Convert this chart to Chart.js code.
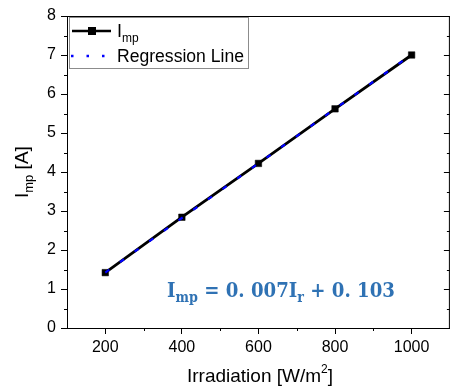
<!DOCTYPE html>
<html>
<head>
<meta charset="utf-8">
<script src="https://cdn.jsdelivr.net/npm/chart.js@4.4.1/dist/chart.umd.min.js"></script>
<style>
  html, body { margin: 0; padding: 0; background: #fff; overflow: hidden; }
  #wrap { width: 455px; height: 387px; }
</style>
</head>
<body>
<div id="wrap"><canvas id="impChart" width="455" height="387"></canvas></div>
<script>
// data
const irradiation = [200, 400, 600, 800, 1000];
const impValues = [1.42, 2.84, 4.22, 5.62, 7.0];
const regressionValues = [1.42, 2.82, 4.22, 5.62, 7.01];
const xTickValues = [200, 400, 600, 800, 1000];
const yTickValues = [0, 1, 2, 3, 4, 5, 6, 7, 8];

const FONT = '"Liberation Sans", Arial, sans-serif';
const EQ_BLUE = '#2f72b4';

function toPoints(ys) {
  return irradiation.map((x, i) => ({ x: x, y: ys[i] }));
}

// draws "main" + subscript at x, y (baseline), returns end x
function drawSub(ctx, main, sub, x, y, size, font, weight) {
  ctx.font = (weight || '') + ' ' + size + 'px ' + font;
  ctx.fillText(main, x, y);
  x += ctx.measureText(main).width;
  ctx.font = (weight || '') + ' ' + Math.round(size * 0.68) + 'px ' + font;
  ctx.fillText(sub, x, y + size * 0.25);
  return x + ctx.measureText(sub).width;
}

const decorPlugin = {
  id: 'decor',
  afterDraw(chart) {
    const ctx = chart.ctx;
    const area = chart.chartArea;
    const xs = chart.scales.x;
    const ys = chart.scales.y;
    ctx.save();
    ctx.strokeStyle = '#000';
    ctx.lineWidth = 1;

    // top and right frame
    ctx.beginPath();
    ctx.moveTo(area.left, area.top + 0.5);
    ctx.lineTo(area.right, area.top + 0.5);
    ctx.moveTo(area.right - 0.5, area.top);
    ctx.lineTo(area.right - 0.5, area.bottom);
    ctx.stroke();

    // minor ticks (outside) on left and bottom, inner ticks on right
    ctx.beginPath();
    for (let i = 0; i < xTickValues.length; i++) {
      const v = xTickValues[i] + 100;
      if (v >= xs.max) continue;
      const px = Math.round(xs.getPixelForValue(v)) + 0.5;
      ctx.moveTo(px, area.bottom);
      ctx.lineTo(px, area.bottom + 3);
    }
    for (let i = 0; i < yTickValues.length - 1; i++) {
      const py = Math.round(ys.getPixelForValue(yTickValues[i] + 0.5)) + 0.5;
      ctx.moveTo(area.left, py);
      ctx.lineTo(area.left - 3, py);
      ctx.moveTo(area.right, py);
      ctx.lineTo(area.right - 3, py);
    }
    for (let i = 1; i < yTickValues.length - 1; i++) {
      const py = Math.round(ys.getPixelForValue(yTickValues[i])) + 0.5;
      ctx.moveTo(area.right, py);
      ctx.lineTo(area.right - 6, py);
    }
    ctx.stroke();

    ctx.fillStyle = '#000';
    ctx.textBaseline = 'alphabetic';
    ctx.textAlign = 'left';

    // x axis title
    ctx.font = '19px ' + FONT;
    const xt = 'Irradiation [W/m';
    const xtW = ctx.measureText(xt).width;
    ctx.font = '12px ' + FONT;
    const supW = ctx.measureText('2').width;
    ctx.font = '19px ' + FONT;
    const brW = ctx.measureText(']').width;
    let tx = 260 - (xtW + supW + brW) / 2;
    ctx.fillText(xt, tx, 382);
    tx += xtW;
    ctx.font = '12px ' + FONT;
    ctx.fillText('2', tx, 373);
    tx += supW;
    ctx.font = '19px ' + FONT;
    ctx.fillText(']', tx, 382);

    // y axis title, rotated
    ctx.save();
    ctx.translate(28, 198);
    ctx.rotate(-Math.PI / 2);
    let yx = drawSub(ctx, 'I', 'mp', 0, 0, 19, FONT);
    ctx.font = '19px ' + FONT;
    ctx.fillText(' [A]', yx, 0);
    ctx.restore();

    // legend
    const lx = 69, ly = 17, lw = 179, lh = 51;
    ctx.fillStyle = '#fff';
    ctx.fillRect(lx, ly, lw, lh);
    ctx.strokeStyle = '#8c8c8c';
    ctx.lineWidth = 1;
    ctx.strokeRect(lx + 0.5, ly + 0.5, lw, lh);

    ctx.strokeStyle = '#000';
    ctx.lineWidth = 2.5;
    ctx.beginPath();
    ctx.moveTo(72, 31);
    ctx.lineTo(111, 31);
    ctx.stroke();
    ctx.fillStyle = '#000';
    ctx.fillRect(88, 27, 8, 8);

    ctx.strokeStyle = '#0000ff';
    ctx.lineWidth = 2.5;
    ctx.setLineDash([2.5, 13]);
    ctx.beginPath();
    ctx.moveTo(71, 56);
    ctx.lineTo(112, 56);
    ctx.stroke();
    ctx.setLineDash([]);

    ctx.fillStyle = '#000';
    drawSub(ctx, 'I', 'mp', 117, 37, 18, FONT);
    ctx.font = '18px ' + FONT;
    ctx.fillText('Regression Line', 117, 62, 127);

    // regression equation
    ctx.fillStyle = EQ_BLUE;
    const eqFont = '"DejaVu Serif", "Liberation Serif", serif';
    const parts = [
      ['I', 'mp'],
      [' = 0. 007I', 'r'],
      [' + 0. 103', '']
    ];
    let total = 0;
    parts.forEach(p => {
      ctx.font = 'bold 20px ' + eqFont;
      total += ctx.measureText(p[0]).width;
      ctx.font = 'bold 14px ' + eqFont;
      total += ctx.measureText(p[1]).width;
    });
    ctx.save();
    ctx.translate(167, 297);
    ctx.scale(228 / total, 1);
    let ex = 0;
    parts.forEach(p => {
      ex = drawSub(ctx, p[0], p[1], ex, 0, 20, eqFont, 'bold');
    });
    ctx.restore();

    ctx.restore();
  }
};

const ctx = document.getElementById('impChart');
new Chart(ctx, {
  type: 'line',
  data: {
    datasets: [
      {
        label: 'Regression Line',
        data: toPoints(regressionValues),
        borderColor: '#0000ff',
        borderWidth: 2.2,
        borderDash: [5, 13],
        pointRadius: 0,
        order: 1
      },
      {
        label: 'Imp',
        data: toPoints(impValues),
        borderColor: '#000',
        borderWidth: 2.8,
        pointStyle: 'rect',
        pointRadius: 4.6,
        pointBackgroundColor: '#000',
        pointBorderColor: '#000',
        pointBorderWidth: 0.5,
        order: 2
      }
    ]
  },
  options: {
    responsive: false,
    animation: false,
    events: [],
    layout: { padding: { left: 0, top: 16, right: 2, bottom: 0 } },
    plugins: { legend: { display: false }, tooltip: { enabled: false } },
    scales: {
      x: {
        type: 'linear',
        min: 100,
        max: 1100,
        afterBuildTicks(scale) {
          scale.ticks = xTickValues.map(v => ({ value: v }));
        },
        afterFit(scale) { scale.height = 59; },
        grid: { drawOnChartArea: false, drawTicks: true, tickLength: 6, tickColor: '#000', tickWidth: 1 },
        border: { color: '#000', width: 1 },
        ticks: {
          color: '#000', font: { family: FONT, size: 16 }, padding: 4, maxRotation: 0,
          callback: v => String(v)
        }
      },
      y: {
        type: 'linear',
        min: 0,
        max: 8,
        afterBuildTicks(scale) {
          scale.ticks = yTickValues.map(v => ({ value: v }));
        },
        afterFit(scale) { scale.width = 67; },
        grid: { drawOnChartArea: false, drawTicks: true, tickLength: 6, tickColor: '#000', tickWidth: 1 },
        border: { color: '#000', width: 1 },
        ticks: { color: '#000', font: { family: FONT, size: 16 }, padding: 5, callback: v => String(v) }
      }
    }
  },
  plugins: [decorPlugin]
});
</script>
</body>
</html>
